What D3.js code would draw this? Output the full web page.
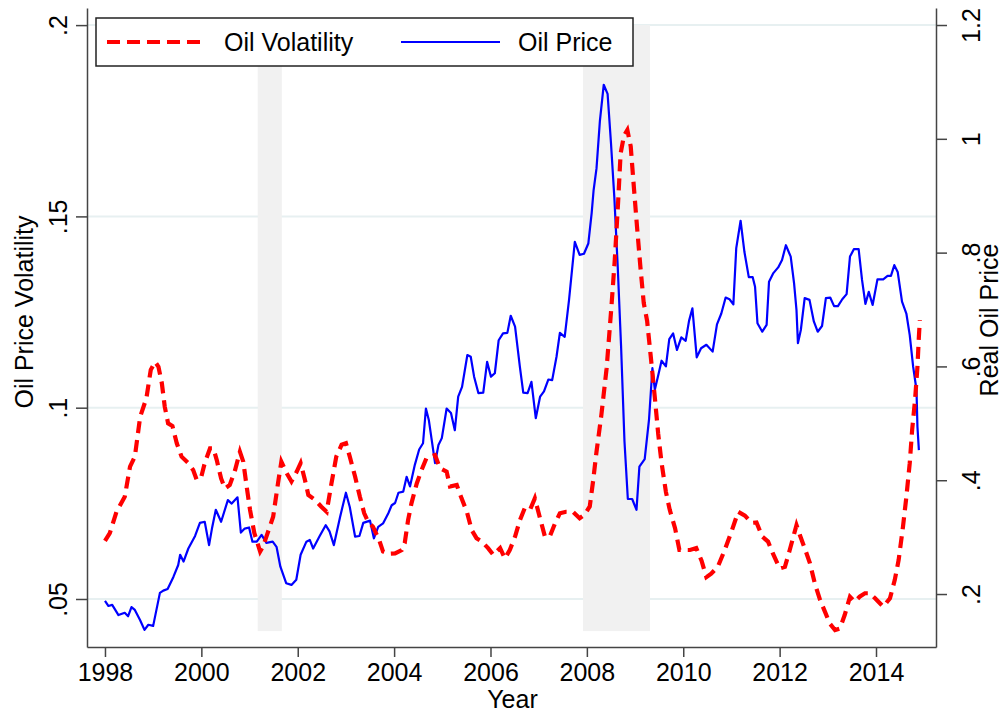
<!DOCTYPE html>
<html>
<head>
<meta charset="utf-8">
<script src="https://cdn.jsdelivr.net/npm/d3@7"></script>
<style>
  body { margin: 0; background: #fff; }
  svg { display: block; font-family: "Liberation Sans", Arial, sans-serif; }
</style>
</head>
<body>
<svg id="chart" width="1005" height="714"></svg>
<script>
(function (d3) {
    'use strict';

    // oil price volatility (left axis)
    var volYears = [
        1998.00, 1998.10, 1998.24, 1998.41, 1998.52, 1998.62, 1998.73, 1998.86, 1998.95, 1999.04,
        1999.11, 1999.18, 1999.24, 1999.31, 1999.40, 1999.49, 1999.59, 1999.73, 1999.83, 1999.90,
        1999.99, 2000.07, 2000.18, 2000.25, 2000.32, 2000.41, 2000.49, 2000.59, 2000.70, 2000.80,
        2000.87, 2000.94, 2001.01, 2001.10, 2001.22, 2001.28, 2001.35, 2001.49, 2001.59, 2001.66,
        2001.77, 2001.87, 2001.98, 2002.06, 2002.15, 2002.22, 2002.36, 2002.49, 2002.60, 2002.70,
        2002.80, 2002.91, 2003.00, 2003.08, 2003.19, 2003.29, 2003.38, 2003.46, 2003.56, 2003.69,
        2003.77, 2003.88, 2004.02, 2004.16, 2004.22, 2004.29, 2004.36, 2004.47, 2004.57, 2004.67,
        2004.74, 2004.85, 2004.95, 2005.09, 2005.16, 2005.30, 2005.40, 2005.51, 2005.61, 2005.71,
        2005.82, 2005.95, 2006.06, 2006.20, 2006.30, 2006.40, 2006.51, 2006.61, 2006.71, 2006.82,
        2006.92, 2007.02, 2007.13, 2007.23, 2007.34, 2007.44, 2007.57, 2007.71, 2007.85, 2007.95,
        2008.06, 2008.13, 2008.20, 2008.30, 2008.41, 2008.51, 2008.58, 2008.65, 2008.70, 2008.77,
        2008.84, 2008.91, 2008.98, 2009.04, 2009.11, 2009.18, 2009.25, 2009.32, 2009.41, 2009.48,
        2009.55, 2009.64, 2009.72, 2009.83, 2009.92, 2010.03, 2010.14, 2010.27, 2010.38, 2010.48,
        2010.58, 2010.72, 2010.86, 2011.00, 2011.14, 2011.28, 2011.42, 2011.52, 2011.64, 2011.76,
        2011.86, 2012.00, 2012.11, 2012.21, 2012.35, 2012.42, 2012.52, 2012.63, 2012.73, 2012.84,
        2012.94, 2013.04, 2013.15, 2013.25, 2013.35, 2013.46, 2013.56, 2013.66, 2013.77, 2013.87,
        2013.98, 2014.15, 2014.29, 2014.39, 2014.47, 2014.56, 2014.63, 2014.70, 2014.75, 2014.81,
        2014.86, 2014.89, 2014.91
    ];
    var volValues = [
        .0652, .0672, .0728, .0767, .0846, .0872, .0976, .1025, .1099, .1120,
        .1107, .1064, .1003, .0959, .0952, .0907, .0872, .0855, .0837, .0813,
        .0815, .0855, .0894, .0894, .0863, .0815, .0789, .0798, .0837, .0885,
        .0859, .0794, .0733, .0672, .0624, .0637, .0663, .0715, .0802, .0859,
        .0829, .0807, .0833, .0855, .0811, .0772, .0759, .0741, .0728, .0802,
        .0872, .0903, .0907, .0872, .0820, .0767, .0724, .0702, .0689, .0654,
        .0624, .0618, .0619, .0628, .0646, .0706, .0750, .0802, .0837, .0868,
        .0872, .0876, .0842, .0833, .0794, .0798, .0763, .0728, .0680, .0659,
        .0650, .0633, .0615, .0633, .0606, .0628, .0663, .0706, .0737, .0733,
        .0763, .0715, .0663, .0663, .0698, .0724, .0728, .0728, .0711, .0720,
        .0742, .0809, .0885, .0980, .1103, .1265, .1388, .1541, .1664, .1711,
        .1726, .1683, .1569, .1474, .1369, .1274, .1227, .1141, .1027, .0932,
        .0856, .0780, .0733, .0685, .0628, .0628, .0628, .0633, .0600, .0557,
        .0566, .0585, .0628, .0676, .0728, .0718, .0699, .0700, .0663, .0650,
        .0619, .0580, .0584, .0628, .0693, .0667, .0633, .0593, .0541, .0497,
        .0467, .0436, .0419, .0423, .0458, .0506, .0493, .0506, .0515, .0515,
        .0502, .0480, .0502, .0550, .0602, .0689, .0767, .0855, .0942, .1020,
        .1107, .1186, .1229
    ];

    // real oil price (right axis)
    var priceYears = [
        1998.00, 1998.07, 1998.15, 1998.28, 1998.41, 1998.48, 1998.55, 1998.62, 1998.73, 1998.82,
        1998.90, 1999.00, 1999.14, 1999.21, 1999.30, 1999.42, 1999.52, 1999.56, 1999.63, 1999.73,
        1999.87, 1999.97, 2000.07, 2000.16, 2000.22, 2000.30, 2000.41, 2000.55, 2000.63, 2000.75,
        2000.82, 2000.90, 2000.99, 2001.06, 2001.15, 2001.25, 2001.35, 2001.48, 2001.56, 2001.64,
        2001.76, 2001.87, 2001.97, 2002.06, 2002.18, 2002.25, 2002.32, 2002.45, 2002.58, 2002.66,
        2002.75, 2002.88, 2003.00, 2003.08, 2003.19, 2003.28, 2003.36, 2003.50, 2003.58, 2003.67,
        2003.77, 2003.88, 2003.95, 2004.02, 2004.09, 2004.19, 2004.26, 2004.33, 2004.43, 2004.52,
        2004.60, 2004.66, 2004.72, 2004.78, 2004.85, 2004.92, 2004.99, 2005.09, 2005.18, 2005.26,
        2005.33, 2005.41, 2005.52, 2005.59, 2005.66, 2005.75, 2005.85, 2005.93, 2006.01, 2006.09,
        2006.17, 2006.26, 2006.35, 2006.42, 2006.51, 2006.61, 2006.68, 2006.77, 2006.85, 2006.94,
        2007.03, 2007.11, 2007.20, 2007.28, 2007.37, 2007.44, 2007.54, 2007.63, 2007.75, 2007.85,
        2007.94, 2008.03, 2008.10, 2008.14, 2008.20, 2008.27, 2008.35, 2008.43, 2008.50, 2008.57,
        2008.64, 2008.71, 2008.78, 2008.85, 2008.94, 2009.03, 2009.09, 2009.20, 2009.29, 2009.36,
        2009.41, 2009.48, 2009.55, 2009.64, 2009.71, 2009.79, 2009.87, 2009.96, 2010.05, 2010.12,
        2010.19, 2010.28, 2010.37, 2010.48, 2010.61, 2010.70, 2010.79, 2010.88, 2010.96, 2011.04,
        2011.10, 2011.19, 2011.27, 2011.36, 2011.44, 2011.49, 2011.54, 2011.64, 2011.73, 2011.78,
        2011.87, 2011.97, 2012.05, 2012.13, 2012.23, 2012.30, 2012.35, 2012.38, 2012.44, 2012.52,
        2012.62, 2012.71, 2012.79, 2012.88, 2012.96, 2013.05, 2013.13, 2013.21, 2013.30, 2013.39,
        2013.46, 2013.54, 2013.64, 2013.71, 2013.78, 2013.85, 2013.93, 2014.03, 2014.15, 2014.24,
        2014.31, 2014.38, 2014.45, 2014.54, 2014.63, 2014.70, 2014.77, 2014.84, 2014.86, 2014.89
    ];
    var priceValues = [
        .188, .179, .181, .163, .167, .161, .177, .172, .154, .137,
        .146, .144, .202, .206, .209, .230, .251, .269, .257, .280,
        .302, .325, .327, .286, .315, .348, .327, .365, .359, .370,
        .308, .315, .317, .292, .292, .304, .290, .292, .283, .248,
        .219, .216, .225, .269, .292, .295, .280, .301, .321, .310,
        .286, .336, .378, .353, .301, .302, .325, .329, .298, .318,
        .324, .342, .356, .360, .378, .380, .406, .389, .427, .454,
        .465, .526, .506, .471, .430, .462, .474, .526, .518, .488,
        .547, .564, .620, .617, .582, .553, .554, .608, .582, .588,
        .646, .658, .659, .689, .670, .599, .554, .553, .573, .509,
        .547, .556, .577, .576, .617, .659, .652, .717, .819, .796,
        .798, .816, .870, .910, .948, 1.031, 1.095, 1.079, .993, .897,
        .776, .635, .469, .367, .367, .348, .424, .437, .507, .597,
        .559, .584, .610, .600, .648, .658, .629, .651, .645, .680,
        .702, .616, .632, .638, .626, .674, .693, .721, .718, .709,
        .808, .856, .801, .757, .757, .740, .676, .661, .673, .749,
        .764, .774, .787, .813, .793, .746, .699, .641, .664, .720,
        .717, .679, .661, .671, .720, .721, .706, .706, .718, .727,
        .793, .806, .806, .752, .710, .731, .708, .753, .753, .759,
        .759, .778, .766, .714, .693, .655, .600, .559, .494, .453
    ];

    // shaded recession periods
    var recessionStart = [2001.17, 2007.92];
    var recessionEnd = [2001.67, 2009.31];

    var xTicks = [1998, 2000, 2002, 2004, 2006, 2008, 2010, 2012, 2014];
    var volTicks = [0.05, 0.1, 0.15, 0.2];
    var volTickLabels = ['.05', '.1', '.15', '.2'];
    var priceTicks = [0.2, 0.4, 0.6, 0.8, 1, 1.2];
    var priceTickLabels = ['.2', '.4', '.6', '.8', '1', '1.2'];

    var legendLabels = ['Oil Volatility', 'Oil Price'];

    var left = 87, right = 936, top = 8, bottom = 647;
    var axisColor = '#444',
        gridColor = '#e7f0f1',
        shadeColor = '#f1f1f1',
        fontSize = 25;

    var svg = d3.select('#chart');

    var x = d3.scaleLinear().domain([1997.627, 2015.245]).range([left, right]);
    var yVol = d3.scaleLinear().domain([0.03745, 0.20447]).range([bottom, top]);
    var yPrice = d3.scaleLinear().domain([0.1069, 1.2299]).range([bottom, top]);

    // gridlines
    svg.append('g')
        .selectAll('line')
        .data(volTicks)
        .enter()
        .append('line')
        .attr('x1', left)
        .attr('x2', right)
        .attr('y1', function (d) { return yVol(d); })
        .attr('y2', function (d) { return yVol(d); })
        .style('stroke', gridColor)
        .style('stroke-width', 2);

    // recession shading
    svg.append('g')
        .selectAll('rect')
        .data(recessionStart)
        .enter()
        .append('rect')
        .attr('x', function (d) { return x(d); })
        .attr('width', function (d, i) { return x(recessionEnd[i]) - x(d); })
        .attr('y', yVol(0.2))
        .attr('height', yVol(0.0416) - yVol(0.2))
        .style('fill', shadeColor);

    var volLine = d3.line()
        .x(function (d, i) { return x(volYears[i]); })
        .y(function (d) { return yVol(d); });

    var priceLine = d3.line()
        .x(function (d, i) { return x(priceYears[i]); })
        .y(function (d) { return yPrice(d); });

    svg.append('path')
        .datum(priceValues)
        .attr('d', priceLine)
        .style('fill', 'none')
        .style('stroke', '#0000ff')
        .style('stroke-width', 2.2)
        .style('stroke-linejoin', 'round');

    svg.append('path')
        .datum(volValues)
        .attr('d', volLine)
        .style('fill', 'none')
        .style('stroke', '#ff0000')
        .style('stroke-width', 4.2)
        .style('stroke-dasharray', '12,7');

    // axes
    var xAxis = svg.append('g')
        .attr('transform', 'translate(0,' + bottom + ')')
        .call(d3.axisBottom(x).tickValues(xTicks).tickFormat(d3.format('d')).tickSize(10).tickPadding(6).tickSizeOuter(0));

    var leftAxis = svg.append('g')
        .attr('transform', 'translate(' + left + ',0)')
        .call(d3.axisLeft(yVol).tickValues(volTicks).tickSize(11).tickSizeOuter(0)
            .tickFormat(function (d, i) { return volTickLabels[i]; }));

    var rightAxis = svg.append('g')
        .attr('transform', 'translate(' + right + ',0)')
        .call(d3.axisRight(yPrice).tickValues(priceTicks).tickSize(11).tickSizeOuter(0)
            .tickFormat(function (d, i) { return priceTickLabels[i]; }));

    [xAxis, leftAxis, rightAxis].forEach(function (g) {
        g.select('.domain').style('stroke', axisColor).style('stroke-width', 1.5);
        g.selectAll('.tick line').style('stroke', axisColor).style('stroke-width', 1.5);
        g.selectAll('text')
            .style('font-family', '"Liberation Sans", Arial, sans-serif')
            .style('font-size', fontSize + 'px')
            .style('fill', '#000');
    });

    xAxis.selectAll('text').attr('dy', '0.71em');

    leftAxis.selectAll('text')
        .attr('x', 0)
        .attr('dy', 0)
        .attr('y', -20)
        .attr('text-anchor', 'middle')
        .attr('transform', 'rotate(-90)');

    rightAxis.selectAll('text')
        .attr('x', 0)
        .attr('dy', 0)
        .attr('y', 44)
        .attr('text-anchor', 'middle')
        .attr('transform', 'rotate(-90)');

    // axis titles
    svg.append('text')
        .attr('transform', 'translate(33,312) rotate(-90)')
        .attr('text-anchor', 'middle')
        .style('font-size', fontSize + 'px')
        .text('Oil Price Volatility');

    svg.append('text')
        .attr('transform', 'translate(998,320) rotate(-90)')
        .attr('text-anchor', 'middle')
        .style('font-size', fontSize + 'px')
        .text('Real Oil Price');

    svg.append('text')
        .attr('x', (x(1998) + x(2014)) / 2 + 22)
        .attr('y', 708)
        .attr('text-anchor', 'middle')
        .style('font-size', fontSize + 'px')
        .text('Year');

    // legend
    var legend = svg.append('g');
    legend.append('rect')
        .attr('x', 96)
        .attr('y', 18)
        .attr('width', 537)
        .attr('height', 48)
        .style('fill', '#fff')
        .style('stroke', '#222')
        .style('stroke-width', 1.5);

    legend.append('line')
        .attr('x1', 107).attr('x2', 207)
        .attr('y1', 42).attr('y2', 42)
        .style('stroke', '#ff0000')
        .style('stroke-width', 4.2)
        .style('stroke-dasharray', '13,7');

    legend.append('line')
        .attr('x1', 401).attr('x2', 500)
        .attr('y1', 42).attr('y2', 42)
        .style('stroke', '#0000ff')
        .style('stroke-width', 2.2);

    legend.selectAll('text.lab')
        .data(legendLabels)
        .enter()
        .append('text')
        .attr('class', 'lab')
        .attr('x', function (d, i) { return i === 0 ? 224 : 518; })
        .attr('y', 51)
        .style('font-size', fontSize + 'px')
        .text(function (d) { return d; });
})(d3);
</script>
</body>
</html>
